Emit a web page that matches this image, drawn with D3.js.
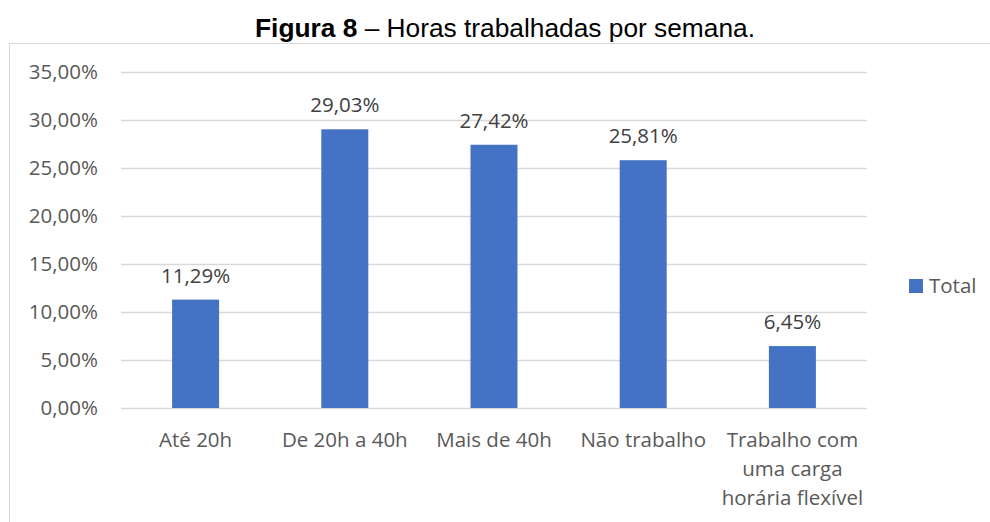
<!DOCTYPE html>
<html>
<head>
<meta charset="utf-8">
<script src="https://cdn.jsdelivr.net/npm/d3@7"></script>
<style>
  body { margin: 0; background: #fff; }
  svg { display: block; }
</style>
</head>
<body>
<svg width="990" height="522"></svg>
<script>
// data
var categories = ["Até 20h", "De 20h a 40h", "Mais de 40h", "Não trabalho", "Trabalho com uma carga horária flexível"];
var catLines = [["Até 20h"], ["De 20h a 40h"], ["Mais de 40h"], ["Não trabalho"], ["Trabalho com", "uma carga", "horária flexível"]];
var values = [11.29, 29.03, 27.42, 25.81, 6.45];
var yTicks = [0, 5, 10, 15, 20, 25, 30, 35];
var seriesName = "Total";

var svg = d3.select("svg");
var fontMain = "'Open Sans', 'Noto Sans', sans-serif";
var fs = "20.5px";
var textCol = "#595959";
var barCol = "#4472C4";

var fmt = function(v) { return v.toFixed(2).replace(".", ",") + "%"; };

// outer chart border
svg.append("rect")
  .attr("x", 9.5).attr("y", 43.5)
  .attr("width", 1000).attr("height", 500)
  .attr("fill", "none").attr("stroke", "#d9d9d9").attr("stroke-width", 1);

// title
var title = svg.append("text")
  .attr("x", 505).attr("y", 37)
  .attr("text-anchor", "middle")
  .style("font-family", "Arial, 'Liberation Sans', sans-serif")
  .style("font-size", "26.3px")
  .style("fill", "#000");
title.append("tspan").style("font-weight", "bold").text("Figura 8");
title.append("tspan").text(" – Horas trabalhadas por semana.");

var x = d3.scaleBand().domain(categories).range([121, 867]).padding(0);
var y = d3.scaleLinear().domain([0, 35]).range([408, 72]);
var barW = x.bandwidth() * 0.315;

// gridlines
svg.append("g").selectAll("line").data(yTicks).enter().append("line")
  .attr("x1", 121).attr("x2", 867)
  .attr("y1", d => y(d) + 0.5).attr("y2", d => y(d) + 0.5)
  .attr("stroke", "#d9d9d9").attr("stroke-width", 1.3);

// y axis labels
var yAxis = d3.axisLeft(y).tickValues(yTicks).tickSize(0).tickPadding(0)
  .tickFormat(fmt);
var gy = svg.append("g").attr("transform", "translate(98,0)").call(yAxis);
gy.select(".domain").remove();
gy.selectAll("text")
  .style("font-family", fontMain).style("font-size", fs).style("fill", textCol);

// bars
svg.append("g").selectAll("rect").data(values).enter().append("rect")
  .attr("x", (d, i) => x(categories[i]) + x.bandwidth() / 2 - barW / 2)
  .attr("y", d => y(d))
  .attr("width", barW)
  .attr("height", d => y(0) - y(d))
  .attr("fill", barCol);

// value labels
svg.append("g").selectAll("text").data(values).enter().append("text")
  .attr("x", (d, i) => x(categories[i]) + x.bandwidth() / 2)
  .attr("y", d => y(d) - 17)
  .attr("text-anchor", "middle")
  .style("font-family", fontMain).style("font-size", fs).style("fill", "#404040")
  .text(fmt);

// category labels
var cl = svg.append("g").selectAll("text").data(catLines).enter().append("text")
  .attr("x", (d, i) => x(categories[i]) + x.bandwidth() / 2)
  .attr("y", 447)
  .attr("text-anchor", "middle")
  .style("font-family", fontMain).style("font-size", fs).style("fill", textCol);
cl.selectAll("tspan").data(d => d).enter().append("tspan")
  .attr("x", function() { return d3.select(this.parentNode).attr("x"); })
  .attr("dy", (d, i) => i === 0 ? 0 : 29)
  .text(d => d);

// legend
svg.append("rect").attr("x", 909).attr("y", 279).attr("width", 14).attr("height", 14).attr("fill", barCol);
svg.append("text").attr("x", 929).attr("y", 293)
  .style("font-family", fontMain).style("font-size", fs).style("fill", textCol)
  .text(seriesName);
</script>
</body>
</html>
